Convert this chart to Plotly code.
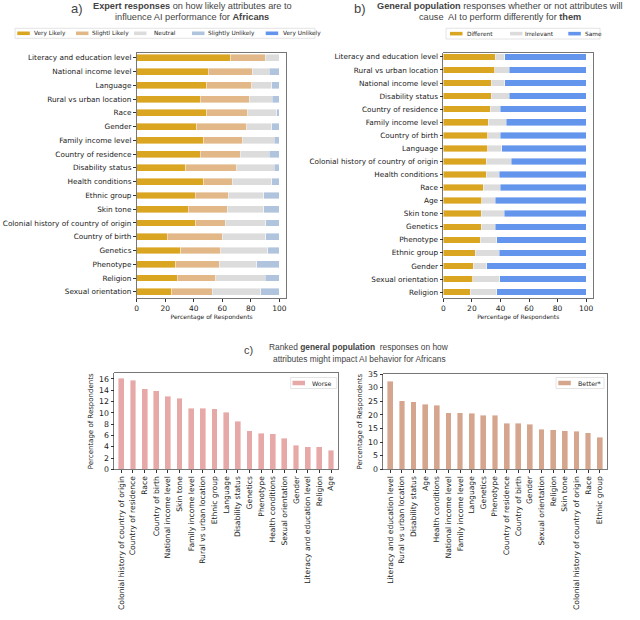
import plotly.graph_objects as go

# ---------------- Panel a: expert responses ----------------
cats_a = ["Literacy and education level", "National income level", "Language",
          "Rural vs urban location", "Race", "Gender", "Family income level",
          "Country of residence", "Disability status", "Health conditions",
          "Ethnic group", "Skin tone", "Colonial history of country of origin",
          "Country of birth", "Genetics", "Phenotype", "Religion", "Sexual orientation"]
very_likely = [66, 50, 49, 44.5, 49, 42, 47, 44.5, 34.5, 47, 41, 36, 41.5, 21.5, 31, 27.5, 28.5, 24.5]
slightly_likely = [24, 31, 31.5, 34.5, 29, 35, 27.5, 28, 35.5, 20, 23, 27.5, 20.5, 38.5, 28, 30.5, 27, 28.5]
neutral = [10, 12, 14, 16, 20, 17.5, 22, 20.5, 26.5, 27.5, 25, 25.5, 28.5, 30.5, 33, 26, 34.5, 34]
slightly_unlikely = [0, 7, 5.5, 5, 2, 5.5, 3.5, 7, 3.5, 5.5, 11, 11, 9.5, 9.5, 8, 16, 10, 13]
very_unlikely = [0, 0, 0, 0, 0, 0, 0, 0, 0, 0, 0, 0, 0, 0, 0, 0, 0, 0]

# ---------------- Panel b: general population ----------------
cats_b = ["Literacy and education level", "Rural vs urban location", "National income level",
          "Disability status", "Country of residence", "Family income level", "Country of birth",
          "Language", "Colonial history of country of origin", "Health conditions", "Race", "Age",
          "Skin tone", "Genetics", "Phenotype", "Ethnic group", "Gender", "Sexual orientation",
          "Religion"]
different = [36.5, 36, 33.5, 33.5, 33, 31.5, 31, 31, 30, 30, 28, 27, 26.5, 26.5, 26, 22.5, 21, 20.5, 19]
irrelevant = [6.5, 10, 9.5, 12.5, 7, 12.5, 9, 10, 17.5, 9, 12, 9.5, 16, 10, 11.5, 16.5, 9.5, 19, 18.5]
same = [57, 54, 57, 54, 60, 56, 60, 59, 52.5, 61, 60, 63.5, 57.5, 63.5, 62.5, 61, 69.5, 60.5, 62.5]

# ---------------- Panel c: ranked ----------------
cats_worse = ["Colonial history of country of origin", "Country of residence", "Race",
              "Country of birth", "National income level", "Skin tone", "Family income level",
              "Rural vs urban location", "Ethnic group", "Language", "Disability status",
              "Genetics", "Phenotype", "Health conditions", "Sexual orientation", "Gender",
              "Literacy and education level", "Religion", "Age"]
worse = [16.1, 15.8, 14.3, 13.9, 12.9, 12.6, 10.8, 10.8, 10.7, 10.1, 8.5, 6.8, 6.4, 6.3, 5.5, 4.3, 4.0, 4.0, 3.4]
cats_better = ["Literacy and education level", "Rural vs urban location", "Disability status", "Age",
               "Health conditions", "National income level", "Family income level", "Language",
               "Genetics", "Phenotype", "Country of residence", "Country of birth", "Gender",
               "Sexual orientation", "Religion", "Skin tone", "Colonial history of country of origin",
               "Race", "Ethnic group"]
better = [32.3, 25.2, 24.9, 23.9, 23.6, 20.8, 20.8, 20.6, 19.9, 19.9, 17.0, 17.0, 16.6, 14.7, 14.6, 14.1, 14.0, 13.5, 11.8]

names_a = ["Very Likely", "Slightl Likely", "Neutral", "Slightly Unlikely", "Very Unlikely"]
colors_a = ["#DAA520", "#E2B888", "#DCDCDC", "#B0C4DE", "#6495ED"]
names_b = ["Different", "Irrelevant", "Same"]
colors_b = ["#DAA520", "#DCDCDC", "#6495ED"]
color_worse = "#E6A9A7"
color_better = "#D5A58D"

W, H = 640, 620
FONT = "DejaVu Sans"
TFONT = "Liberation Sans"
TXT = "#222222"

def px(x):
    return x / W

def py(y):
    return 1 - y / H

fig = go.Figure()
edge = dict(color="white", width=0.4)

for name, vals, col in zip(names_a, [very_likely, slightly_likely, neutral, slightly_unlikely, very_unlikely], colors_a):
    fig.add_trace(go.Bar(y=cats_a, x=vals, orientation="h", name=name, marker_color=col,
                         marker_line=edge, width=0.5, xaxis="x", yaxis="y"))

for name, vals, col in zip(names_b, [different, irrelevant, same], colors_b):
    fig.add_trace(go.Bar(y=cats_b, x=vals, orientation="h", name=name, marker_color=col,
                         marker_line=edge, width=0.5, xaxis="x2", yaxis="y2"))

fig.add_trace(go.Bar(x=cats_worse, y=worse, name="Worse", marker_color=color_worse,
                     marker_line=edge, width=0.5, xaxis="x3", yaxis="y3"))
fig.add_trace(go.Bar(x=cats_better, y=better, name="Better*", marker_color=color_better,
                     marker_line=edge, width=0.5, xaxis="x4", yaxis="y4"))

def tf(size):
    return dict(family=FONT, size=size, color=TXT)

axcommon = dict(showline=True, linecolor="#555", linewidth=0.8, mirror=True, ticks="outside",
                ticklen=3, tickcolor="#333", showgrid=False, zeroline=False, tickfont=tf(7.5))

ya = py(53), py(298)
fig.update_layout(
    template="none",
    width=W, height=H, margin=dict(l=0, r=0, t=0, b=0),
    paper_bgcolor="white", plot_bgcolor="white", barmode="stack", showlegend=False,
    font=dict(family=FONT, color=TXT), hovermode=False,
    xaxis=dict(axcommon, domain=[px(136.7), px(286.5)], range=[0, 105], tickvals=[0, 20, 40, 60, 80, 100],
               anchor="y", title=dict(text="Percentage of Respondents", font=tf(6), standoff=0)),
    yaxis=dict(axcommon, domain=[ya[1], ya[0]], range=[17.45, -0.35], anchor="x", tickfont=tf(7.3)),
    xaxis2=dict(axcommon, domain=[px(443.3), px(593.3)], range=[0, 105], tickvals=[0, 20, 40, 60, 80, 100],
                anchor="y2", title=dict(text="Percentage of Respondents", font=tf(6), standoff=0)),
    yaxis2=dict(axcommon, domain=[ya[1], ya[0]], range=[18.45, -0.3], anchor="x2", tickfont=tf(7.3)),
    xaxis3=dict(axcommon, domain=[px(114.3), px(338)], range=[-0.6, 18.6], anchor="y3", tickangle=-90,
                tickfont=tf(7.6)),
    yaxis3=dict(axcommon, domain=[py(469.3), py(373.3)], range=[0, 17], tickvals=list(range(0, 17, 2)),
                anchor="x3", title=dict(text="Percentage of Respondents", font=tf(7), standoff=4),
                tickfont=tf(7.8)),
    xaxis4=dict(axcommon, domain=[px(383.3), px(606.7)], range=[-0.6, 18.6], anchor="y4", tickangle=-90,
                tickfont=tf(7.6)),
    yaxis4=dict(axcommon, domain=[py(469.3), py(374)], range=[0, 35], tickvals=list(range(0, 36, 5)),
                anchor="x4", title=dict(text="Percentage of Respondents", font=tf(7), standoff=4),
                tickfont=tf(7.8)),
)

ann = []
shapes = []
tcol = "#444"

def t(x, y, text, size=9, anchor="center", family=TFONT, color=tcol):
    ann.append(dict(x=px(x), y=py(y), xref="paper", yref="paper", text=text, showarrow=False,
                    xanchor=anchor, yanchor="middle", font=dict(family=family, size=size, color=color)))

def box(x0, y0, x1, y1, fill="white", line="#dddddd", lw=0.8):
    shapes.append(dict(type="rect", xref="paper", yref="paper", x0=px(x0), x1=px(x1),
                       y0=py(y1), y1=py(y0), fillcolor=fill, line=dict(color=line, width=lw), layer="above"))

def legend(x0, y0, x1, y1, items, ph, size):
    box(x0, y0, x1, y1)
    yc = (y0 + y1) / 2
    for (name, col, pxl, txl) in items:
        box(pxl, yc - ph / 2, pxl + 12.5, yc + ph / 2, fill=col, line=col, lw=0)
        t(txl, yc, name, size, anchor="left", family=FONT, color=TXT)

legend(15, 28.3, 315, 38.3,
       list(zip(names_a, colors_a, [17.3, 76, 134, 192, 265.7], [32, 89.5, 152, 205.5, 280.5])), 3.6, 5.8)
legend(446, 28.3, 600, 39,
       list(zip(names_b, colors_b, [450, 510, 568.3], [464.5, 523, 583])), 3.6, 5.8)
legend(290.7, 377.5, 336.7, 388.5, [("Worse", color_worse, 292.5, 310)], 4.5, 6.3)
legend(556, 377.5, 604, 388.5, [("Better*", color_better, 558.3, 575.5)], 4.5, 6.3)

t(77, 8, "a)", 13)
t(192, 5.5, "<b>Expert responses</b> on how likely attributes are to", 9.2)
t(192, 16.5, "influence AI performance for <b>Africans</b>", 9.2)
t(360, 8, "b)", 13)
t(500, 5.5, "<b>General population</b> responses whether or not attributes will", 9.2)
t(500, 16.5, "cause  AI to perform differently for <b>them</b>", 9.2)
t(248, 350, "c)", 11)
t(359, 346.5, "Ranked <b>general population</b>  responses on how", 8.4)
t(359, 359, "attributes might impact AI behavior for Africans", 8.4)
fig.update_layout(annotations=ann, shapes=shapes)

# remove the default page margin so the 640x620 figure fills the window exactly
fig.write_html("out.html", config={"displayModeBar": False, "staticPlot": True},
               post_script="document.body.style.margin='0';document.body.style.padding='0';"
                           "document.body.style.overflow='hidden';")
